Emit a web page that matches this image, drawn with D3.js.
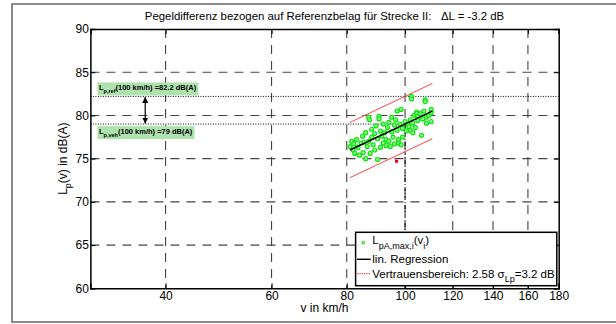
<!doctype html>
<html>
<head>
<meta charset="utf-8" />
<title>Pegeldifferenz Strecke II</title>
<script src="https://cdn.jsdelivr.net/npm/d3@7"></script>
<style>
  body { margin: 0; background: #fff; }
  svg text { font-family: "Liberation Sans", Arial, sans-serif; fill: #000; }
</style>
</head>
<body>
<svg id="chart" width="616" height="324"></svg>
<script>
// ---- data ----
var xTicks = [40, 60, 80, 100, 120, 140, 160, 180];
var yTicks = [60, 65, 70, 75, 80, 85, 90];
var xGrid = [40, 60, 80, 100, 120, 140, 160];
var yGrid = [65, 70, 75, 80, 85];

// measured points L_pA,max,i over v_i  [v km/h, L dB(A)]
var points = [
  [81.0, 76.4], [81.5, 77.0], [82.0, 76.0], [82.2, 76.7], [82.5, 75.6], [83.0, 77.2], [83.5, 76.3],
  [84.0, 75.4], [84.5, 76.8], [85.0, 77.6], [85.2, 75.7], [85.5, 76.9], [86.0, 75.0], [86.0, 78.0],
  [86.5, 76.4], [87.0, 77.0], [87.0, 79.8], [87.3, 79.5], [87.5, 75.6], [88.0, 77.5], [88.0, 78.4],
  [88.5, 76.6], [89.0, 77.9], [89.0, 76.0], [89.5, 78.8], [90.0, 77.3], [90.0, 74.9], [90.5, 79.9],
  [90.5, 79.6], [91.0, 76.3], [91.0, 78.2], [91.5, 77.6], [92.0, 76.8], [92.0, 79.0], [92.5, 78.0],
  [93.0, 77.2], [93.0, 76.5], [93.5, 78.6], [94.0, 79.2], [94.0, 77.0], [94.5, 76.4], [95.0, 78.1],
  [95.0, 79.8], [95.5, 77.5], [96.0, 78.9], [96.0, 76.7], [96.5, 79.5], [97.0, 80.5], [97.0, 78.3],
  [97.5, 77.2], [97.5, 76.8], [98.0, 79.0], [98.5, 80.7], [98.5, 76.6], [99.0, 78.5], [99.0, 77.5],
  [100.0, 79.3], [100.5, 78.2], [101.0, 79.0], [101.5, 78.7], [102.0, 79.5], [102.0, 78.3],
  [102.5, 82.2], [102.5, 81.9], [103.0, 79.1], [103.0, 78.0], [103.5, 80.0], [104.0, 78.6],
  [104.5, 80.4], [104.5, 80.2], [105.0, 79.9], [105.0, 79.4], [106.0, 80.2], [106.5, 77.7],
  [107.0, 79.6], [107.5, 80.5], [108.0, 81.8], [108.0, 81.6], [108.5, 79.8], [108.5, 79.1],
  [109.5, 80.0], [110.5, 80.7], [110.5, 80.3], [110.5, 79.3]
];
var outlier = [96.8, 74.7];

var regression = [[81, 76.0], [111, 80.5]];
var upperBound = [[81, 79.2], [111, 83.7]];
var lowerBound = [[81, 72.8], [111, 77.3]];

var vRef = 100;
var Lref = 82.2;
var Lveh = 79;
var vArrow = 37;

// ---- drawing ----
var svg = d3.select('#chart');
var pL = 90.4, pR = 558.7, pT = 29, pB = 288.3;

var x = d3.scaleLog().domain([30, 180]).range([pL, pR]);
var y = d3.scaleLinear().domain([60, 90]).range([pB, pT]);

// outer figure frame
svg.append('rect')
  .attr('x', 12).attr('y', 4).attr('width', 620).attr('height', 318)
  .attr('fill', 'none').attr('stroke', '#666').attr('stroke-width', 1.5);

// grid
var gridG = svg.append('g').attr('stroke', '#444').attr('stroke-width', 1.1)
  .attr('stroke-dasharray', '9,7');
gridG.selectAll('line.vg').data(xGrid).enter().append('line')
  .attr('x1', function(d) { return x(d); }).attr('x2', function(d) { return x(d); })
  .attr('y1', pT).attr('y2', pB);
gridG.selectAll('line.hg').data(yGrid).enter().append('line')
  .attr('y1', function(d) { return y(d); }).attr('y2', function(d) { return y(d); })
  .attr('x1', pL).attr('x2', pR);

// reference lines
svg.append('line')
  .attr('x1', pL).attr('x2', pR).attr('y1', y(Lref)).attr('y2', y(Lref))
  .attr('stroke', '#000').attr('stroke-width', 1).attr('stroke-dasharray', '1,1.5');
svg.append('line')
  .attr('x1', pL).attr('x2', x(vRef)).attr('y1', y(Lveh)).attr('y2', y(Lveh))
  .attr('stroke', '#000').attr('stroke-width', 1).attr('stroke-dasharray', '1,1.5');
svg.append('line')
  .attr('x1', x(vRef)).attr('x2', x(vRef)).attr('y1', y(Lveh)).attr('y2', y(60))
  .attr('stroke', '#000').attr('stroke-width', 1).attr('stroke-dasharray', '4,2,1,2');

// arrow between the two levels
var defs = svg.append('defs');
defs.append('marker').attr('id', 'ah').attr('viewBox', '0 0 10 10')
  .attr('refX', 10).attr('refY', 5).attr('markerWidth', 5).attr('markerHeight', 5)
  .attr('orient', 'auto-start-reverse')
  .append('path').attr('d', 'M0,0 L10,5 L0,10 z').attr('fill', '#000');
svg.append('line')
  .attr('x1', x(vArrow)).attr('x2', x(vArrow))
  .attr('y1', y(Lref) + 0.5).attr('y2', y(Lveh) - 0.5)
  .attr('stroke', '#000').attr('stroke-width', 1.2)
  .attr('marker-start', 'url(#ah)').attr('marker-end', 'url(#ah)');

// green label boxes
function levelLabel(yBox, wBox, yText, sub, rest) {
  svg.append('rect').attr('x', 97.5).attr('y', yBox).attr('width', wBox).attr('height', 13)
    .attr('fill', '#aee3ae');
  var t = svg.append('text').attr('x', 99).attr('y', yText)
    .attr('font-size', 7.5).attr('font-weight', 'bold');
  t.append('tspan').text('L');
  t.append('tspan').attr('dy', 3).attr('font-size', 5.5).text(sub);
  t.append('tspan').attr('dy', -3).text(rest);
}
levelLabel(y(Lref) - 14, 101, y(Lref) - 6.5, 'p,ref', '(100 km/h) =82.2 dB(A)');
levelLabel(y(Lveh) + 2, 97, y(Lveh) + 9.5, 'p,veh', '(100 km/h) =79 dB(A)');

// confidence band and regression
var line = d3.line().x(function(d) { return x(d[0]); }).y(function(d) { return y(d[1]); });
svg.append('path').datum(upperBound).attr('d', line)
  .attr('fill', 'none').attr('stroke', '#ff4444').attr('stroke-width', 1);
svg.append('path').datum(lowerBound).attr('d', line)
  .attr('fill', 'none').attr('stroke', '#ff4444').attr('stroke-width', 1);

// scatter points
svg.append('g').selectAll('circle').data(points).enter().append('circle')
  .attr('cx', function(d) { return x(d[0]); })
  .attr('cy', function(d) { return y(d[1]); })
  .attr('r', 2)
  .attr('fill', '#8cff8c').attr('stroke', '#10e010').attr('stroke-width', 1.2);
svg.append('rect')
  .attr('x', x(outlier[0]) - 1.5).attr('y', y(outlier[1]) - 1.5)
  .attr('width', 3).attr('height', 3).attr('fill', '#e00000');

svg.append('path').datum(regression).attr('d', line)
  .attr('fill', 'none').attr('stroke', '#000').attr('stroke-width', 1.4);

// axes (ticks inside, MATLAB box style)
var fmt = d3.format('d');
var gx = svg.append('g').attr('transform', 'translate(0,' + pB + ')')
  .call(d3.axisBottom(x).tickValues(xTicks).tickFormat(fmt).tickSize(-5).tickPadding(3));
var gy = svg.append('g').attr('transform', 'translate(' + pL + ',0)')
  .call(d3.axisLeft(y).tickValues(yTicks).tickFormat(fmt).tickSize(-5).tickPadding(1.5));
var gxt = svg.append('g').attr('transform', 'translate(0,' + pT + ')')
  .call(d3.axisTop(x).tickValues(xTicks).tickFormat('').tickSize(-5));
var gyr = svg.append('g').attr('transform', 'translate(' + pR + ',0)')
  .call(d3.axisRight(y).tickValues(yTicks).tickFormat('').tickSize(-5));
[gx, gy, gxt, gyr].forEach(function(g) {
  g.select('.domain').attr('stroke', '#000').attr('stroke-width', 1.5);
  g.selectAll('.tick line').attr('stroke', '#000').attr('stroke-width', 1);
  g.selectAll('.tick text').attr('font-size', 12)
    .attr('font-family', '"Liberation Sans", Arial, sans-serif');
});

// legend
var lg = svg.append('g');
lg.append('rect').attr('x', 355.6).attr('y', 232.3).attr('width', 201.2).attr('height', 53.4)
  .attr('fill', '#fff').attr('stroke', '#000').attr('stroke-width', 1.5);
lg.append('circle').attr('cx', 363.3).attr('cy', 242.7).attr('r', 1.3)
  .attr('fill', '#8cff8c').attr('stroke', '#10e010').attr('stroke-width', 1);
var t1 = lg.append('text').attr('x', 372.3).attr('y', 244).attr('font-size', 11.5);
t1.append('tspan').text('L');
t1.append('tspan').attr('dy', 4.5).attr('font-size', 9).text('pA,max,i');
t1.append('tspan').attr('dy', -4.5).text('(v');
t1.append('tspan').attr('dy', 4.5).attr('font-size', 9).text('i');
t1.append('tspan').attr('dy', -4.5).text(')');
lg.append('line').attr('x1', 357).attr('x2', 370.7).attr('y1', 259.3).attr('y2', 259.3)
  .attr('stroke', '#000').attr('stroke-width', 1.4);
lg.append('text').attr('x', 372.3).attr('y', 263.2).attr('font-size', 11.5).text('lin. Regression');
lg.append('line').attr('x1', 357).attr('x2', 370.7).attr('y1', 273.6).attr('y2', 273.6)
  .attr('stroke', '#ff5a5a').attr('stroke-width', 1.2).attr('stroke-dasharray', '1.5,0.8');
var t3 = lg.append('text').attr('x', 372.3).attr('y', 277.5).attr('font-size', 11.5);
t3.append('tspan').text('Vertrauensbereich: 2.58 \u03C3');
t3.append('tspan').attr('dy', 4.5).attr('font-size', 9).text('Lp');
t3.append('tspan').attr('dy', -4.5).text('=3.2 dB');

// title and axis labels
svg.append('text').attr('x', 324.5).attr('y', 20).attr('text-anchor', 'middle')
  .attr('font-size', 11.4).attr('xml:space', 'preserve')
  .text('Pegeldifferenz bezogen auf Referenzbelag f\u00fcr Strecke II:   \u0394L = -3.2 dB');

svg.append('text').attr('x', 324.5).attr('y', 312).attr('text-anchor', 'middle')
  .attr('font-size', 12).text('v in km/h');

var yl = svg.append('text')
  .attr('transform', 'translate(67,' + ((pT + pB) / 2) + ') rotate(-90)')
  .attr('text-anchor', 'middle').attr('font-size', 12);
yl.append('tspan').text('L');
yl.append('tspan').attr('dy', 4).attr('font-size', 9).text('p');
yl.append('tspan').attr('dy', -4).text('(v) in dB(A)');
</script>
</body>
</html>
